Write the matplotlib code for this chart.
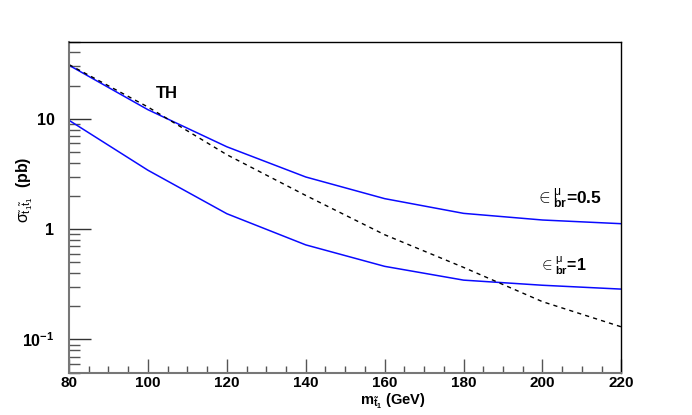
import matplotlib
matplotlib.use("Agg")
import matplotlib.pyplot as plt
from matplotlib.ticker import LogLocator, FixedLocator, MultipleLocator, NullFormatter

mass = [80, 100, 120, 140, 160, 180, 200, 220]
sigma_eps05 = [30.6, 12.1, 5.58, 2.97, 1.89, 1.39, 1.21, 1.12]
sigma_eps1 = [9.7, 3.42, 1.38, 0.72, 0.46, 0.345, 0.31, 0.286]
sigma_th = [31.0, 12.8, 4.73, 2.02, 0.89, 0.45, 0.22, 0.13]

ytick_vals = [0.1, 1, 10]
ytick_labels = [r"$\mathbf{10^{-1}}$", "1", "10"]
xtick_vals = [80, 100, 120, 140, 160, 180, 200, 220]

plt.rcParams['font.family'] = ['Liberation Sans', 'DejaVu Sans']
plt.rcParams['mathtext.fontset'] = 'custom'
plt.rcParams['mathtext.rm'] = 'Liberation Sans'
plt.rcParams['mathtext.it'] = 'Liberation Sans'
plt.rcParams['mathtext.bf'] = 'Liberation Sans:bold'

fig = plt.figure(figsize=(6.92, 4.15), dpi=100)
ax = fig.add_axes([0.0997, 0.102, 0.7983, 0.7975])

ax.plot(mass, sigma_eps05, color='#0a0aff', lw=1.1)
ax.plot(mass, sigma_eps1, color='#0a0aff', lw=1.1)
ax.plot(mass, sigma_th, color='black', lw=1.0, ls=(0, (3, 3)))

ax.set_yscale('log')
ax.set_xlim(80, 220)
ax.set_ylim(0.05, 50)

ax.xaxis.set_major_locator(FixedLocator(xtick_vals))
ax.xaxis.set_minor_locator(MultipleLocator(5))
ax.set_xticklabels([str(v) for v in xtick_vals], fontweight='bold', fontsize=11)
ax.yaxis.set_major_locator(FixedLocator(ytick_vals))
ax.set_yticklabels(ytick_labels, fontweight='bold', fontsize=11.5)
ax.yaxis.set_minor_locator(LogLocator(base=10, subs=range(2, 10)))
ax.yaxis.set_minor_formatter(NullFormatter())

ax.tick_params(axis='x', which='major', direction='in', length=10, width=1, color='#555555', pad=2.5)
ax.tick_params(axis='x', which='minor', direction='in', length=5, width=1, color='#555555')
ax.tick_params(axis='y', which='major', direction='in', length=16, width=1, color='#333333', pad=10.5)
ax.tick_params(axis='y', which='minor', direction='in', length=8, width=1, color='#555555')

for s in ['left', 'bottom']:
    ax.spines[s].set_color('#777777')
    ax.spines[s].set_linewidth(1.5)
for s in ['top', 'right']:
    ax.spines[s].set_color('black')
    ax.spines[s].set_linewidth(1.0)

fig.text(0.567, 0.024, r"$\mathbf{m_{\tilde{t}_1}}$ (GeV)", ha='center', va='baseline',
         fontsize=10.5, fontweight='bold')
fig.text(0.035, 0.542, r"$\sigma_{\tilde{t}_1\tilde{t}_1}$  (pb)", rotation=90, ha='center', va='center',
         fontsize=11.5, fontweight='bold')

ax.text(102.1, 15.5, "TH", fontsize=12, fontweight='bold', ha='left', va='baseline')
ax.text(215.2, 1.68, r"$\in^{\mu}_{\mathbf{br}}$=0.5", fontsize=12.5, fontweight='bold', ha='right', va='baseline')
ax.text(211.1, 0.426, r"$\in^{\mu}_{\mathbf{br}}$=1", fontsize=11.5, fontweight='bold', ha='right', va='baseline')

fig.savefig('out.png', dpi=100)
